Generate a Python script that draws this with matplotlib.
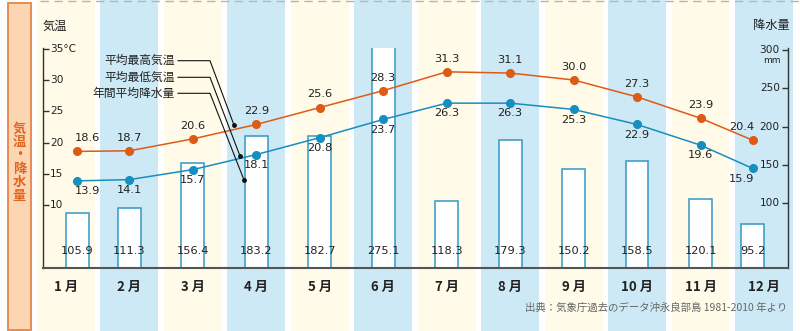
import numpy as np
import matplotlib.pyplot as plt
from matplotlib.patches import Rectangle

plt.rcParams['font.family'] = ['Noto Sans CJK JP', 'DejaVu Sans']

# monthly climate normals
months = ['1 月', '2 月', '3 月', '4 月', '5 月', '6 月',
          '7 月', '8 月', '9 月', '10 月', '11 月', '12 月']
t_max = [18.6, 18.7, 20.6, 22.9, 25.6, 28.3, 31.3, 31.1, 30.0, 27.3, 23.9, 20.4]
t_min = [13.9, 14.1, 15.7, 18.1, 20.8, 23.7, 26.3, 26.3, 25.3, 22.9, 19.6, 15.9]
rain = [105.9, 111.3, 156.4, 183.2, 182.7, 275.1, 118.3, 179.3, 150.2, 158.5, 120.1, 95.2]
temp_ticks = [10, 15, 20, 25, 30, 35]
rain_ticks = [100, 150, 200, 250, 300]
series_names = ['平均最高気温', '平均最低気温', '年間平均降水量']
source = '出典：気象庁過去のデータ沖永良部島 1981-2010 年より'

CREAM = '#fffbe8'
SKY = '#cde9f5'
ORANGE = '#dd5a17'
BLUE = '#178ec0'
BAR_EDGE = '#3298c6'
NUM_FONT = 'DejaVu Sans'

W, H = 800, 331
fig = plt.figure(figsize=(W / 100, H / 100), dpi=100)

# first and last points sit a bit inside their columns
x = np.arange(12, dtype=float)
x[0] += 0.18
x[-1] -= 0.18

# background stripes over the whole figure
bg = fig.add_axes([0, 0, 1, 1])
bg.set_xlim(-1.0402, 11.5682)
bg.set_ylim(0, 1)
bg.axis('off')
for i in range(12):
    bg.axvspan(i - 0.457, i + 0.457, color=CREAM if i % 2 == 0 else SKY, lw=0)
bg.plot([40 / W, 1], [0.9955, 0.9955], transform=bg.transAxes,
        color='#b5b5b5', lw=1, dashes=(6, 4))

# side caption box
bg.add_patch(Rectangle((8 / W, 1 - 330 / H), 22.7 / W, 327 / H,
                       transform=bg.transAxes, fc='#fcd5b3', ec='#e88a52', lw=1.4))
bg.text(19.3 / W, 1 - 162 / H, '\n'.join('気温・降水量'), transform=bg.transAxes,
        ha='center', va='center', color='#e0651f', fontsize=9.5,
        fontweight='bold', linespacing=0.95)

rect = [43 / W, (H - 268) / H, 745 / W, 220 / H]

# precipitation bars
axb = fig.add_axes(rect)
axb.patch.set_visible(False)
axb.set_xlim(-0.3625, 11.379)
axb.set_ylim(51, 271)
axb.bar(x, rain, width=0.36, fc='white', ec=BAR_EDGE, lw=1.1)
for xi, v in zip(x, rain):
    axb.text(xi, 0.077, f'{v:.1f}', transform=axb.get_xaxis_transform(),
             ha='center', va='center', fontsize=8.2, family=NUM_FONT, color='#222')
axb.set_xticks([])
axb.set_yticks([])
axb.spines['top'].set_visible(False)
for s in ['left', 'right']:
    axb.spines[s].set_color('#333')
    axb.spines[s].set_linewidth(1.0)
axb.spines['bottom'].set_color('#555')
axb.spines['bottom'].set_linewidth(1.5)

# temperature lines
ax = axb.twinx()
ax.set_ylim(0, 35.1)
for s in ax.spines.values():
    s.set_visible(False)
ax.yaxis.tick_left()
ax.set_yticks(temp_ticks)
ax.tick_params(axis='y', direction='in', length=4, width=1, color='#333',
               labelleft=False, labelright=False)
for t in temp_ticks:
    ax.text(0.0094, t, f'{t}°C' if t == 35 else str(t), transform=ax.get_yaxis_transform(),
            ha='left', va='center', fontsize=7.6, family=NUM_FONT, color='#222')

ax.plot(x, t_max, color=ORANGE, lw=1.1, marker='o', ms=5.5, zorder=3)
ax.plot(x, t_min, color=BLUE, lw=1.1, marker='o', ms=5.5, zorder=3)

for i, (xi, hi, lo) in enumerate(zip(x, t_max, t_min)):
    dx = 7.2 if i == 0 else (-7.9 if i == 11 else 0)
    ax.annotate(f'{hi:.1f}', (xi, hi), xytext=(dx, 9.4), textcoords='offset points',
                ha='center', va='center', fontsize=8.2, family=NUM_FONT, color='#222')
    ax.annotate(f'{lo:.1f}', (xi, lo), xytext=(dx, -7.4), textcoords='offset points',
                ha='center', va='center', fontsize=8.2, family=NUM_FONT, color='#222')

# precipitation scale on the right
axr = axb.twinx()
axr.set_ylim(15.6, 302.6)
for s in axr.spines.values():
    s.set_visible(False)
axr.set_yticks(rain_ticks)
axr.tick_params(axis='y', direction='in', length=4, width=1, color='#333',
                labelleft=False, labelright=False)
for r in rain_ticks:
    axr.text(0.989, r, str(r), transform=axr.get_yaxis_transform(),
             ha='right', va='center', fontsize=7.6, family=NUM_FONT, color='#222')
axr.text(0.978, 0.944, 'mm', transform=axr.transAxes, ha='center', va='center',
         fontsize=6.5, family=NUM_FONT, color='#222')


def px(xp, yp):
    # pixel position -> axes fraction
    return (xp - 43) / 745, (268 - yp) / 220


ax.text(*px(43, 26), '気温', transform=ax.transAxes, ha='left', va='center',
        fontsize=8.8, color='#222')
ax.text(*px(790, 26), '降水量', transform=ax.transAxes, ha='right', va='center',
        fontsize=8.8, color='#222')

# series captions with leader lines
rows = [60.7, 77.3, 93.3]
ends = [(234, 125), (240, 156), (244, 180)]
for name, yr, (ex, ey) in zip(series_names, rows, ends):
    ax.text(*px(175, yr), name, transform=ax.transAxes, ha='right', va='center',
            fontsize=8.5, color='#222')
    p0, p1, p2 = px(178, yr), px(210, yr), px(ex, ey)
    ax.plot([p0[0], p1[0], p2[0]], [p0[1], p1[1], p2[1]], transform=ax.transAxes,
            color='#111', lw=0.8, clip_on=False, zorder=4)
    ax.plot([p2[0]], [p2[1]], 'o', transform=ax.transAxes, color='#111', ms=2.5,
            clip_on=False, zorder=4)

for i, m in enumerate(months):
    ax.text(i, -0.0864, m, transform=ax.get_xaxis_transform(), ha='center', va='center',
            fontsize=9.5, fontweight='bold', color='#222')

ax.text(0.9987, -0.18, source, transform=ax.transAxes, ha='right', va='center',
        fontsize=7.5, color='#666')

fig.savefig('out.png', dpi=100)
